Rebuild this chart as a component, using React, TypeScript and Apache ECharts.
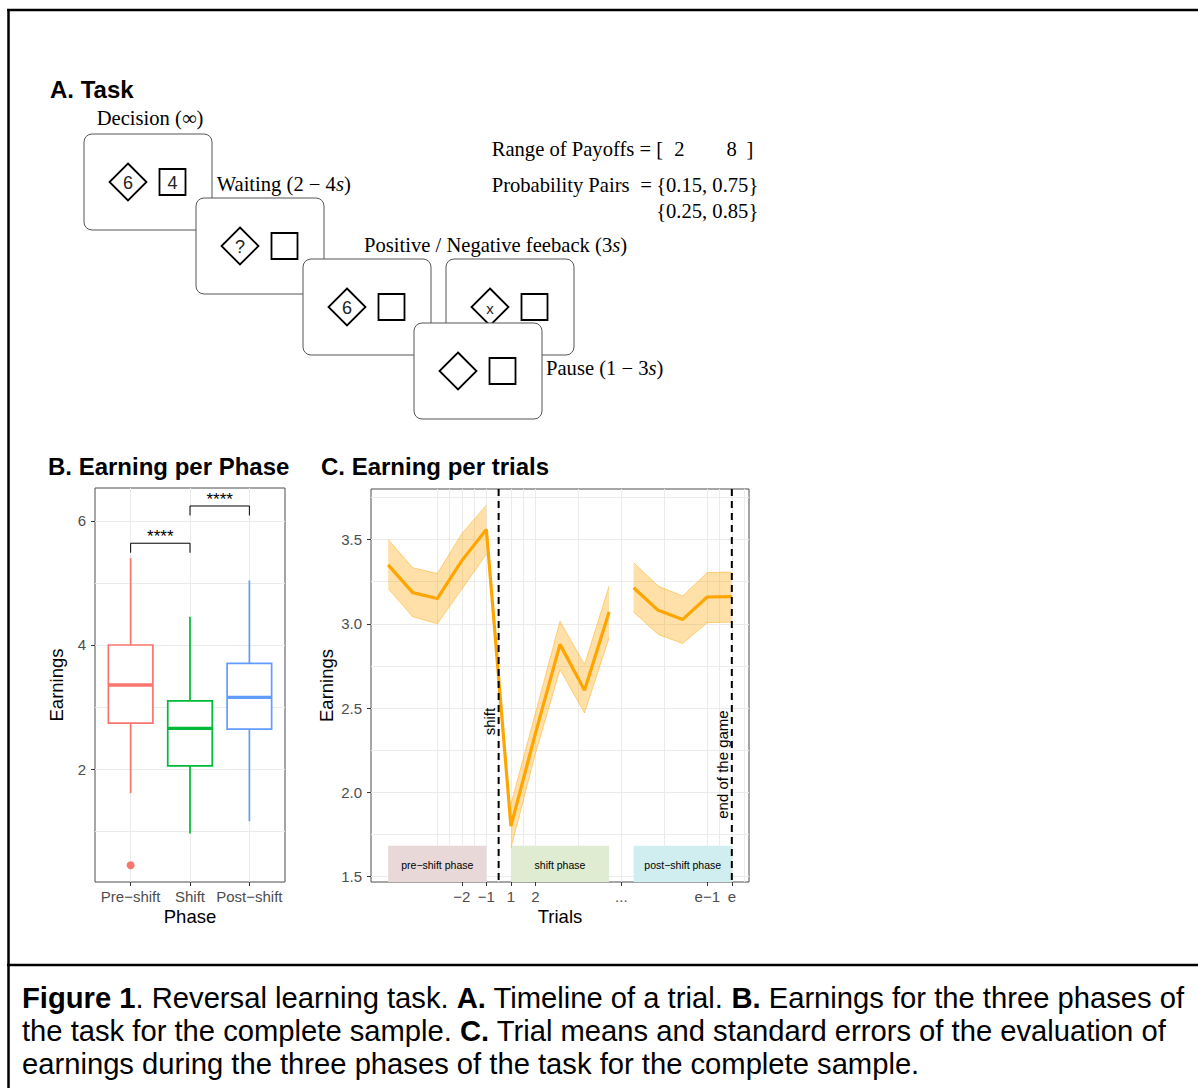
import React, { useEffect, useRef } from "react";
import * as echarts from "echarts";

// ---------------- Panel B: Earning per phase (box plots) ----------------
const phaseNames = ["Pre\u2212shift", "Shift", "Post\u2212shift"];
const phaseColors = ["#F8766D", "#00BA38", "#619CFF"];
const boxLow = [1.61, 0.96, 1.16];
const boxQ1 = [2.74, 2.05, 2.645];
const boxMedian = [3.355, 2.655, 3.155];
const boxQ3 = [4.0, 3.1, 3.705];
const boxHigh = [5.4, 4.455, 5.04];
const outlierPhase = [1];
const outlierValue = [0.45];
const sigFrom = [1, 2];
const sigTo = [2, 3];
const sigLevel = [5.64, 6.24];
const sigLabel = ["****", "****"];
const bGridX = [1, 2, 3];
const bTicksY = [2, 4, 6];
const bGridY = [1, 2, 3, 4, 5, 6];
const bYMin = 0.18;
const bYMax = 6.53;

// ---------------- Panel C: Earning per trials ----------------
const preX = [-4, -3, -2, -1, 0];
const preMean = [3.35, 3.185, 3.15, 3.375, 3.56];
const preUpper = [3.5, 3.333, 3.298, 3.535, 3.704];
const preLower = [3.209, 3.042, 3.0, 3.205, 3.413];
const shiftX = [1, 2, 3, 4, 5];
const shiftMean = [1.8, 2.35, 2.878, 2.606, 3.07];
const shiftUpper = [1.93, 2.47, 3.016, 2.759, 3.224];
const shiftLower = [1.669, 2.23, 2.729, 2.471, 2.917];
const postX = [6, 7, 8, 9, 10];
const postMean = [3.214, 3.08, 3.026, 3.159, 3.161];
const postUpper = [3.363, 3.224, 3.165, 3.304, 3.307];
const postLower = [3.07, 2.937, 2.883, 3.007, 3.01];
const cTickPos = [-1, 0, 1, 2, 5.5, 9, 10];
const cTickLabels = ["\u22122", "\u22121", "1", "2", "...", "e\u22121", "e"];
const cGridX = [-2, -1.5, -1, -0.5, 0, 0.5, 1, 1.5, 2, 3.75, 5.5, 7.25, 9, 9.5, 10, 10.5];
const cTicksY = [1.5, 2, 2.5, 3, 3.5];
const cGridY = [1.5, 1.75, 2, 2.25, 2.5, 2.75, 3, 3.25, 3.5, 3.75];
const cXMin = -4.7;
const cXMax = 10.7;
const cYMin = 1.468;
const cYMax = 3.8;
const phaseRectStart = [-4, 1, 6];
const phaseRectEnd = [0, 5, 10];
const phaseRectTop = [1.683, 1.683, 1.683];
const phaseRectLabels = ["pre\u2212shift phase", "shift phase", "post\u2212shift phase"];
const phaseRectColors = ["#e9d8d8", "#dfecd1", "#d0edef"];
const eventX = [0.5, 10];
const eventLabelY = [2.42, 2.165];
const eventLabels = ["shift", "end of the game"];

const SANS = "'Liberation Sans', Arial, Helvetica, sans-serif";
const SERIF = "'Liberation Serif', 'Times New Roman', serif";
const GRID = "#ebebeb";
const TICKTXT = "#4d4d4d";
const ORANGE = "#FFA500";
const SERIF_SIZE = 20.6;
const CAP_SIZE = 29.2;

function mainAxis(gridIndex: number, min: number, max: number, grid: number[], extra: any) {
  return {
    type: "value",
    gridIndex,
    min,
    max,
    axisLine: { show: false, onZero: false },
    axisTick: { show: false, customValues: grid },
    splitLine: { show: true, lineStyle: { color: GRID, width: 1 } },
    nameTextStyle: { color: "#000", fontSize: 18.5, fontFamily: SANS },
    nameLocation: "middle",
    ...extra,
  };
}
function tickAxis(gridIndex: number, min: number, max: number, ticks: number[], position: string) {
  return {
    type: "value",
    gridIndex,
    min,
    max,
    position,
    axisLine: { show: false, onZero: false },
    axisTick: { show: true, customValues: ticks, length: 4, lineStyle: { color: "#333", width: 1 } },
    splitLine: { show: false },
    axisLabel: { show: false },
  };
}
function labelStyle(values: number[], fmt: (v: number) => string, margin: number) {
  return { customValues: values, formatter: fmt, color: TICKTXT, fontSize: 15, fontFamily: SANS, margin };
}

const bands = [
  { x: preX, up: preUpper, lo: preLower },
  { x: shiftX, up: shiftUpper, lo: shiftLower },
  { x: postX, up: postUpper, lo: postLower },
];

function buildGraphic() {
  const els: any[] = [];
  const frame = { stroke: "#000", lineWidth: 2.5 };
  els.push({ type: "line", shape: { x1: 7, y1: 10, x2: 1198, y2: 10 }, style: frame });
  els.push({ type: "line", shape: { x1: 8.5, y1: 9, x2: 8.5, y2: 1088 }, style: frame });
  els.push({ type: "line", shape: { x1: 7, y1: 965, x2: 1198, y2: 965 }, style: frame });

  const title = (x: number, y: number, t: string) => ({
    type: "text", x, y,
    style: { text: t, fontSize: 24, fontWeight: "bold", fontFamily: SANS, fill: "#000", verticalAlign: "middle" },
  });
  els.push(title(50, 89, "A. Task"));
  els.push(title(48, 466, "B. Earning per Phase"));
  els.push(title(321, 466, "C. Earning per trials"));

  const cards: [number, number, string, string][] = [
    [84, 134, "6", "4"],
    [196, 198, "?", ""],
    [303, 259, "6", ""],
    [446, 259, "x", ""],
    [414, 323, "", ""],
  ];
  cards.forEach(([x, y, sym, sq]) => {
    els.push({ type: "rect", shape: { x, y, width: 128, height: 96, r: 8 }, style: { fill: "#fff", stroke: "#555", lineWidth: 1 } });
    const cx = x + 44, cy = y + 48, h = 18.5;
    els.push({ type: "polygon", shape: { points: [[cx, cy - h], [cx + h, cy], [cx, cy + h], [cx - h, cy]] }, style: { fill: "#fff", stroke: "#000", lineWidth: 1.8 } });
    const sx = x + 88.5, sy = y + 48;
    els.push({ type: "rect", shape: { x: sx - 13, y: sy - 13, width: 26, height: 26 }, style: { fill: "#fff", stroke: "#000", lineWidth: 1.8 } });
    if (sym) els.push({ type: "text", x: cx, y: cy + 1, style: { text: sym, fontSize: sym === "x" ? 15 : 18, fontFamily: SANS, fill: "#222", align: "center", verticalAlign: "middle" } });
    if (sq) els.push({ type: "text", x: sx, y: sy + 1, style: { text: sq, fontSize: 18, fontFamily: SANS, fill: "#222", align: "center", verticalAlign: "middle" } });
  });

  const serif = (x: number, y: number, t: string, align = "left") => ({
    type: "text", x, y,
    style: { text: t, rich: { i: { fontStyle: "italic", fontSize: SERIF_SIZE, fontFamily: SERIF, fill: "#000" } }, fontSize: SERIF_SIZE, fontFamily: SERIF, fill: "#000", align, verticalAlign: "middle" },
  });
  els.push(serif(96.7, 117.7, "Decision (\u221E)"));
  els.push(serif(216.7, 184.3, "Waiting (2 \u2212 4{i|s})"));
  els.push(serif(364, 245, "Positive / Negative feeback (3{i|s})"));
  els.push(serif(546, 368.3, "Pause (1 \u2212 3{i|s})"));
  els.push(serif(491.7, 149.3, "Range of Payoffs = ["));
  els.push(serif(679.3, 149.3, "2", "center"));
  els.push(serif(731.7, 149.3, "8", "center"));
  els.push(serif(750, 149.3, "]", "center"));
  els.push(serif(491.7, 185, "Probability Pairs"));
  els.push(serif(646, 185, "=", "center"));
  els.push(serif(758.3, 185, "{0.15, 0.75}", "right"));
  els.push(serif(758.3, 210.7, "{0.25, 0.85}", "right"));

  const cap = (y: number, t: string) => ({
    type: "text", x: 22, y,
    style: { text: t, rich: { b: { fontWeight: "bold", fontSize: CAP_SIZE, fontFamily: SANS, fill: "#000" } }, fontSize: CAP_SIZE, fontFamily: SANS, fill: "#000", verticalAlign: "middle" },
  });
  els.push(cap(998, "{b|Figure 1}. Reversal learning task. {b|A.} Timeline of a trial. {b|B.} Earnings for the three phases of"));
  els.push(cap(1031, "the task for the complete sample. {b|C.} Trial means and standard errors of the evaluation of"));
  els.push(cap(1064, "earnings during the three phases of the task for the complete sample."));
  return els;
}

function buildOption() {
  const fmtPhase = (v: number) => phaseNames[Math.round(v) - 1] ?? "";
  const fmtTrial = (v: number) => cTickLabels[cTickPos.indexOf(v)] ?? "";
  return {
    animation: false,
    textStyle: { fontFamily: SANS },
    grid: [
      { left: 95, top: 488, width: 190, height: 394, show: true, borderColor: "#4d4d4d", borderWidth: 1, backgroundColor: "transparent" },
      { left: 371, top: 489, width: 378, height: 393, show: true, borderColor: "#4d4d4d", borderWidth: 1, backgroundColor: "transparent" },
    ],
    xAxis: [
      mainAxis(0, 0.4, 3.6, bGridX, { position: "bottom", name: "Phase", nameGap: 25, axisLabel: labelStyle(bGridX, fmtPhase, 7) }),
      tickAxis(0, 0.4, 3.6, bGridX, "bottom"),
      mainAxis(1, cXMin, cXMax, cGridX, { position: "bottom", name: "Trials", nameGap: 25, axisLabel: labelStyle(cTickPos, fmtTrial, 7) }),
      tickAxis(1, cXMin, cXMax, cTickPos, "bottom"),
    ],
    yAxis: [
      mainAxis(0, bYMin, bYMax, bGridY, { position: "left", name: "Earnings", nameGap: 29, axisLabel: labelStyle(bTicksY, (v: number) => String(v), 9) }),
      tickAxis(0, bYMin, bYMax, bTicksY, "left"),
      mainAxis(1, cYMin, cYMax, cGridY, { position: "left", name: "Earnings", nameGap: 35, axisLabel: labelStyle(cTicksY, (v: number) => v.toFixed(1), 9) }),
      tickAxis(1, cYMin, cYMax, cTicksY, "left"),
    ],
    series: [
      {
        type: "custom",
        xAxisIndex: 0,
        yAxisIndex: 0,
        z: 3,
        data: phaseNames.map((_, i) => [i + 1, boxLow[i], boxQ1[i], boxMedian[i], boxQ3[i], boxHigh[i]]),
        encode: { x: 0, y: [1, 2, 3, 4, 5] },
        renderItem: (params: any, api: any) => {
          const x = api.value(0);
          const half = api.size([0.75, 0])[0] / 2;
          const pLow = api.coord([x, api.value(1)]);
          const pQ1 = api.coord([x, api.value(2)]);
          const pMed = api.coord([x, api.value(3)]);
          const pQ3 = api.coord([x, api.value(4)]);
          const pHigh = api.coord([x, api.value(5)]);
          const c = phaseColors[params.dataIndex];
          return {
            type: "group",
            children: [
              { type: "line", shape: { x1: pHigh[0], y1: pHigh[1], x2: pQ3[0], y2: pQ3[1] }, style: { stroke: c, lineWidth: 1.7 } },
              { type: "line", shape: { x1: pQ1[0], y1: pQ1[1], x2: pLow[0], y2: pLow[1] }, style: { stroke: c, lineWidth: 1.7 } },
              { type: "rect", shape: { x: pQ3[0] - half, y: pQ3[1], width: half * 2, height: pQ1[1] - pQ3[1] }, style: { fill: "#fff", stroke: c, lineWidth: 1.7 } },
              { type: "line", shape: { x1: pMed[0] - half, y1: pMed[1], x2: pMed[0] + half, y2: pMed[1] }, style: { stroke: c, lineWidth: 3.3 } },
            ],
          };
        },
      },
      {
        type: "scatter",
        xAxisIndex: 0,
        yAxisIndex: 0,
        z: 4,
        symbolSize: 8,
        itemStyle: { color: phaseColors[0], opacity: 1 },
        data: outlierPhase.map((p, i) => [p, outlierValue[i]]),
      },
      {
        type: "custom",
        xAxisIndex: 0,
        yAxisIndex: 0,
        z: 4,
        data: sigFrom.map((f, i) => [f, sigTo[i], sigLevel[i]]),
        encode: { x: [0, 1], y: 2 },
        renderItem: (params: any, api: any) => {
          const a = api.coord([api.value(0), api.value(2)]);
          const b = api.coord([api.value(1), api.value(2)]);
          const drop = 9.5;
          return {
            type: "group",
            children: [
              { type: "polyline", shape: { points: [[a[0], a[1] + drop], a, b, [b[0], b[1] + drop]] }, style: { stroke: "#000", lineWidth: 1, fill: "none" } },
              { type: "text", x: (a[0] + b[0]) / 2, y: a[1] + 2, style: { text: sigLabel[params.dataIndex], fontSize: 17, fontFamily: SANS, fill: "#000", align: "center", verticalAlign: "bottom" } },
            ],
          };
        },
      },
      {
        type: "custom",
        xAxisIndex: 2,
        yAxisIndex: 2,
        z: 2,
        data: phaseRectStart.map((s, i) => [s, phaseRectEnd[i], phaseRectTop[i]]),
        encode: { x: [0, 1], y: 2 },
        renderItem: (params: any, api: any) => {
          const a = api.coord([api.value(0), api.value(2)]);
          const b = api.coord([api.value(1), api.value(2)]);
          const bottom = params.coordSys.y + params.coordSys.height;
          return {
            type: "group",
            children: [
              { type: "rect", shape: { x: a[0], y: a[1], width: b[0] - a[0], height: bottom - a[1] }, style: { fill: phaseRectColors[params.dataIndex] } },
              { type: "text", x: (a[0] + b[0]) / 2, y: (a[1] + bottom) / 2 + 1, style: { text: phaseRectLabels[params.dataIndex], fontSize: 10.5, fontFamily: SANS, fill: "#000", align: "center", verticalAlign: "middle" } },
            ],
          };
        },
      },
      {
        type: "custom",
        xAxisIndex: 2,
        yAxisIndex: 2,
        z: 3,
        data: bands.map((b) => [b.x[0], b.up[0]]),
        renderItem: (params: any, api: any) => {
          const b = bands[params.dataIndex];
          const up = b.x.map((x, i) => api.coord([x, b.up[i]]));
          const lo = b.x.map((x, i) => api.coord([x, b.lo[i]]));
          return {
            type: "group",
            children: [
              { type: "polygon", shape: { points: up.concat(lo.slice().reverse()) }, style: { fill: "rgba(255,165,0,0.34)" } },
              { type: "polyline", shape: { points: up }, style: { stroke: "rgba(255,165,0,0.45)", lineWidth: 1, fill: "none" } },
              { type: "polyline", shape: { points: lo }, style: { stroke: "rgba(255,165,0,0.45)", lineWidth: 1, fill: "none" } },
            ],
          };
        },
      },
      {
        type: "line",
        xAxisIndex: 2,
        yAxisIndex: 2,
        z: 4,
        symbol: "none",
        lineStyle: { color: ORANGE, width: 3.2 },
        data: [...preX, ...shiftX].map((x, i) => [x, [...preMean, ...shiftMean][i]]),
      },
      {
        type: "line",
        xAxisIndex: 2,
        yAxisIndex: 2,
        z: 4,
        symbol: "none",
        lineStyle: { color: ORANGE, width: 3.2 },
        data: postX.map((x, i) => [x, postMean[i]]),
      },
      {
        type: "custom",
        xAxisIndex: 2,
        yAxisIndex: 2,
        z: 5,
        data: eventX.map((x, i) => [x, eventLabelY[i]]),
        renderItem: (params: any, api: any) => {
          const p = api.coord([api.value(0), api.value(1)]);
          const top = params.coordSys.y;
          const bottom = params.coordSys.y + params.coordSys.height;
          return {
            type: "group",
            children: [
              { type: "line", shape: { x1: p[0], y1: top, x2: p[0], y2: bottom }, style: { stroke: "#000", lineWidth: 2, lineDash: [7, 5] } },
              { type: "text", x: p[0] - 2, y: p[1], rotation: Math.PI / 2, style: { text: eventLabels[params.dataIndex], fontSize: 15, fontFamily: SANS, fill: "#000", align: "center", verticalAlign: "bottom" } },
            ],
          };
        },
      },
    ],
    graphic: { elements: buildGraphic() },
  };
}

export default function App() {
  const ref = useRef<HTMLDivElement>(null);
  useEffect(() => {
    document.body.style.margin = "0";
    const chart = echarts.init(ref.current as HTMLDivElement, null, { renderer: "svg" });
    chart.setOption(buildOption() as any);
    return () => chart.dispose();
  }, []);
  return <div ref={ref} style={{ width: 1198, height: 1088, background: "#fff" }} />;
}
